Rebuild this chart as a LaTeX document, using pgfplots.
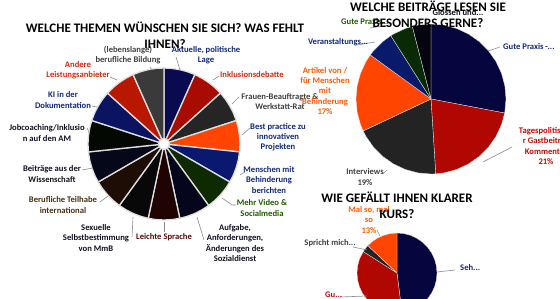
\documentclass[border=0pt]{standalone}
\usepackage{pgfplots}
\pgfplotsset{compat=1.18}
\usepgfplotslibrary{polar}
\usepackage{fontspec}
\setmainfont{Carlito}
% slice colours
\definecolor{sA}{HTML}{0A0A50}
\definecolor{sB}{HTML}{A80C00}
\definecolor{sC}{HTML}{252525}
\definecolor{sD}{HTML}{FF4500}
\definecolor{sE}{HTML}{0A1870}
\definecolor{sF}{HTML}{0E2A00}
\definecolor{sG}{HTML}{05061C}
\definecolor{sH}{HTML}{200404}
\definecolor{sI}{HTML}{080808}
\definecolor{sJ}{HTML}{1E0D04}
\definecolor{sK}{HTML}{040818}
\definecolor{sL}{HTML}{030803}
\definecolor{sM}{HTML}{0A1460}
\definecolor{sN}{HTML}{B81800}
\definecolor{sO}{HTML}{3A3A3A}
\definecolor{pNavy}{HTML}{06063F}
\definecolor{pRed}{HTML}{B00800}
\definecolor{pGray}{HTML}{232323}
\definecolor{pOrange}{HTML}{FF4500}
\definecolor{pBlue}{HTML}{0A1A6A}
\definecolor{pGreen}{HTML}{0A2A05}
\definecolor{pBlack}{HTML}{05050F}
% label colours
\definecolor{tNavy}{HTML}{10287C}
\definecolor{tRed}{HTML}{D42A0A}
\definecolor{tDRed}{HTML}{C00A00}
\definecolor{tOrange}{HTML}{FF5A00}
\definecolor{tGray}{HTML}{404040}
\definecolor{tGreen}{HTML}{1E5A00}
\definecolor{tBlack}{HTML}{101020}
\definecolor{tBrown}{HTML}{4A3010}
\definecolor{tMaroon}{HTML}{5A0A0A}
\definecolor{lead}{HTML}{8A8A8A}
\begin{document}
\begin{tikzpicture}[x=1pt,y=1pt,
  lbl/.style={font=\fontsize{8.6}{10.2}\selectfont\bfseries, align=center, inner sep=0pt},
  ttl/.style={font=\fontsize{13}{16}\selectfont\bfseries, align=center, inner sep=0pt, text=black},
  ld/.style={draw=lead, line width=0.6pt}]
\path[use as bounding box] (0pt,0pt) rectangle (560pt,299pt);
\pgfplotsset{mypie/.style={hide axis, scale only axis, ymin=0, ymax=1, clip=false, anchor=center}}
% ---------- left pie: 15 equal slices ----------
\begin{polaraxis}[mypie, at={(164pt,155pt)}, width=152pt, height=152pt]
\pgfplotsset{every axis plot/.append style={draw=gray!25, line width=1.3pt}}
\addplot[fill=sA] coordinates {(66,0.07) (66,1) (72,1) (78,1) (84,1) (90,1) (90,0.07) (66,0.07)};
\addplot[fill=sB] coordinates {(42,0.07) (42,1) (48,1) (54,1) (60,1) (66,1) (66,0.07) (42,0.07)};
\addplot[fill=sC] coordinates {(18,0.07) (18,1) (24,1) (30,1) (36,1) (42,1) (42,0.07) (18,0.07)};
\addplot[fill=sD] coordinates {(-6,0.07) (-6,1) (0,1) (6,1) (12,1) (18,1) (18,0.07) (-6,0.07)};
\addplot[fill=sE] coordinates {(-30,0.07) (-30,1) (-24,1) (-18,1) (-12,1) (-6,1) (-6,0.07) (-30,0.07)};
\addplot[fill=sF] coordinates {(-54,0.07) (-54,1) (-48,1) (-42,1) (-36,1) (-30,1) (-30,0.07) (-54,0.07)};
\addplot[fill=sG] coordinates {(-78,0.07) (-78,1) (-72,1) (-66,1) (-60,1) (-54,1) (-54,0.07) (-78,0.07)};
\addplot[fill=sH] coordinates {(-102,0.07) (-102,1) (-96,1) (-90,1) (-84,1) (-78,1) (-78,0.07) (-102,0.07)};
\addplot[fill=sI] coordinates {(-126,0.07) (-126,1) (-120,1) (-114,1) (-108,1) (-102,1) (-102,0.07) (-126,0.07)};
\addplot[fill=sJ] coordinates {(-150,0.07) (-150,1) (-144,1) (-138,1) (-132,1) (-126,1) (-126,0.07) (-150,0.07)};
\addplot[fill=sK] coordinates {(-174,0.07) (-174,1) (-168,1) (-162,1) (-156,1) (-150,1) (-150,0.07) (-174,0.07)};
\addplot[fill=sL] coordinates {(-198,0.07) (-198,1) (-192,1) (-186,1) (-180,1) (-174,1) (-174,0.07) (-198,0.07)};
\addplot[fill=sM] coordinates {(-222,0.07) (-222,1) (-216,1) (-210,1) (-204,1) (-198,1) (-198,0.07) (-222,0.07)};
\addplot[fill=sN] coordinates {(-246,0.07) (-246,1) (-240,1) (-234,1) (-228,1) (-222,1) (-222,0.07) (-246,0.07)};
\addplot[fill=sO] coordinates {(-270,0.07) (-270,1) (-264,1) (-258,1) (-252,1) (-246,1) (-246,0.07) (-270,0.07)};
\end{polaraxis}
% ---------- top right pie ----------
\begin{polaraxis}[mypie, at={(431pt,200pt)}, width=150pt, height=150pt]
\pgfplotsset{every axis plot/.append style={draw=white!85!gray, line width=0.3pt}}
\addplot[fill=pNavy] coordinates {(0,0) (-10.8,1) (0,1) (10,1) (20,1) (30,1) (40,1) (50,1) (60,1) (70,1) (80,1) (90,1) (0,0)};
\addplot[fill=pRed] coordinates {(0,0) (-86.4,1) (-80,1) (-70,1) (-60,1) (-50,1) (-40,1) (-30,1) (-20,1) (-10.8,1) (0,0)};
\addplot[fill=pGray] coordinates {(0,0) (-154.8,1) (-150,1) (-140,1) (-130,1) (-120,1) (-110,1) (-100,1) (-90,1) (-86.4,1) (0,0)};
\addplot[fill=pOrange] coordinates {(0,0) (-216,1) (-210,1) (-200,1) (-190,1) (-180,1) (-170,1) (-160,1) (-154.8,1) (0,0)};
\addplot[fill=pBlue] coordinates {(0,0) (-237.6,1) (-230,1) (-220,1) (-216,1) (0,0)};
\addplot[fill=pGreen] coordinates {(0,0) (-255.6,1) (-250,1) (-240,1) (-237.6,1) (0,0)};
\addplot[fill=pBlack] coordinates {(0,0) (-270,1) (-260,1) (-255.6,1) (0,0)};
\end{polaraxis}
% ---------- bottom right pie ----------
\begin{polaraxis}[mypie, at={(397pt,26pt)}, width=80pt, height=80pt]
\pgfplotsset{every axis plot/.append style={draw=white!85!gray, line width=0.3pt}}
\addplot[fill=pNavy] coordinates {(0,0) (-82.8,1) (-70,1) (-60,1) (-50,1) (-40,1) (-30,1) (-20,1) (-10,1) (0,1) (10,1) (20,1) (30,1) (40,1) (50,1) (60,1) (70,1) (80,1) (90,1) (0,0)};
\addplot[fill=pRed] coordinates {(0,0) (-212.4,1) (-200,1) (-190,1) (-180,1) (-170,1) (-160,1) (-150,1) (-140,1) (-130,1) (-120,1) (-110,1) (-100,1) (-90,1) (-82.8,1) (0,0)};
\addplot[fill=pGray] coordinates {(0,0) (-223.2,1) (-217.8,1) (-212.4,1) (0,0)};
\addplot[fill=pOrange] coordinates {(0,0) (-270,1) (-260,1) (-250,1) (-240,1) (-230,1) (-223.2,1) (0,0)};
\end{polaraxis}
% ---------- leader lines ----------
\draw[ld] (180,229) -- (176,242);
\draw[ld] (213,219) -- (219,223);
\draw[ld] (232,195) -- (239,202);
\draw[ld] (242,164) -- (250,171);
\draw[ld] (240,124) -- (245,127);
\draw[ld] (222,101) -- (232,94) -- (236,94);
\draw[ld] (197,82) -- (204,59);
\draw[ld] (164,77) -- (164,67);
\draw[ld] (133,82) -- (132,62);
\draw[ld] (108,103) -- (100,97);
\draw[ld] (93,131) -- (82,129);
\draw[ld] (87,171) -- (90,165);
\draw[ld] (92,193) -- (97,192);
\draw[ld] (110,222) -- (117,219);
\draw[ld] (150,232) -- (152,229);
\draw[ld] (488,248) -- (500,252);
\draw[ld] (483,137) -- (512,152);
\draw[ld] (383,125) -- (387,129);
\draw[ld] (357,254) -- (375,257);
\draw[ld] (370,271) -- (390,274);
\draw[ld] (437,27) -- (455,29);
\draw[ld] (340,2) -- (367,3);
\draw[ld] (353,52) -- (367,49);
\draw[ld] (377,69) -- (380,63);
% ---------- labels: left pie ----------
\node[lbl, text=tNavy] at (206,244) {Aktuelle, politische\\Lage};
\node[lbl, text=tRed, anchor=west] at (220,224) {Inklusionsdebatte};
\node[lbl, text=tGray] at (280,197.5) {Frauen-Beauftragte \&\\Werkstatt-Rat};
\node[lbl, text=tNavy] at (278,162) {Best practice zu\\innovativen\\Projekten};
\node[lbl, text=tNavy] at (269,119) {Menschen mit\\Behinderung\\berichten};
\node[lbl, text=tGreen] at (262,91) {Mehr Video \&\\Socialmedia};
\node[lbl, text=tBlack] at (235,56) {Aufgabe,\\Anforderungen,\\Änderungen des\\Sozialdienst};
\node[lbl, text=tMaroon] at (164,62) {Leichte Sprache};
\node[lbl, text=tBlack] at (96,61) {Sexuelle\\Selbstbestimmung\\von MmB};
\node[lbl, text=tBrown] at (63,94) {Berufliche Teilhabe\\international};
\node[lbl, text=tBlack] at (52,125) {Beiträge aus der\\Wissenschaft};
\node[lbl, text=tBlack] at (47,166) {Jobcoaching/Inklusio\\n auf den AM};
\node[lbl, text=tNavy] at (63,199) {KI in der\\Dokumentation};
\node[lbl, text=tRed] at (78,229) {Andere\\Leistungsanbieter};
\node[lbl, text=tGray] at (128,244) {(lebenslange)\\berufliche Bildung};
% ---------- labels: top right pie ----------
\node[lbl, text=tBlack] at (458,286) {Glossen und...};
\node[lbl, text=tGreen, anchor=west] at (341,277) {Gute Praxis...};
\node[lbl, text=tNavy] at (338,257) {Veranstaltungs...};
\node[lbl, text=tNavy, anchor=west] at (503,252) {Gute Praxis -...};
\node[lbl, text=tOrange] at (325,208) {Artikel von /\\für Menschen\\mit\\Behinderung\\17\%};
\node[lbl, text=tDRed] at (546,153) {Tagespolitische\\r Gastbeitrag\\Kommentar\\21\%};
\node[lbl, text=tGray] at (365,122) {Interviews\\19\%};
% ---------- labels: bottom right pie ----------
\node[lbl, text=tNavy, anchor=west] at (460,31) {Seh...};
\node[lbl, text=tDRed, anchor=west] at (325,4) {Gu...};
\node[lbl, text=tGray] at (330,56) {Spricht mich...};
\node[lbl, text=tOrange] at (369,79) {Mal so, mal\\so\\13\%};
% ---------- titles ----------
\node[ttl] at (165,264) {WELCHE THEMEN WÜNSCHEN SIE SICH? WAS FEHLT\\IHNEN?};
\node[ttl] at (428,284.5) {WELCHE BEITRÄGE LESEN SIE\\BESONDERS GERNE?};
\node[ttl] at (397,94) {WIE GEFÄLLT IHNEN KLARER\\KURS?};
\end{tikzpicture}
\end{document}
